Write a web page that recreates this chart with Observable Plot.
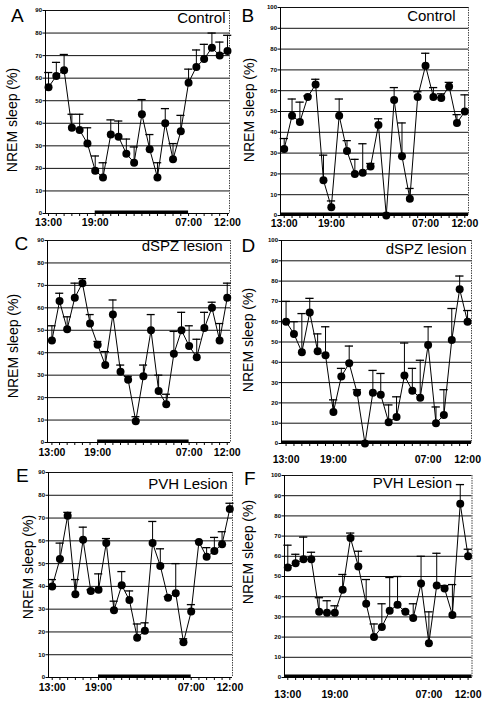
<!DOCTYPE html>
<html><head><meta charset="utf-8">
<script src="https://cdn.jsdelivr.net/npm/d3@7"></script>
<script src="https://cdn.jsdelivr.net/npm/@observablehq/plot@0.6"></script>
<style>
body{margin:0;background:#fff;}
#fig{position:relative;width:486px;height:703px;overflow:hidden;font-family:"Liberation Sans",Arial,Helvetica,sans-serif;color:#000;}
.panel{position:absolute;}
.letter{position:absolute;font-size:19px;line-height:1;}
.ylab{position:absolute;font-size:14px;white-space:nowrap;transform:translate(-50%,-50%) rotate(-90deg);}
</style></head><body><div id="fig"></div>
<script>
// ---- data ----
const hours = ["13:00","14:00","15:00","16:00","17:00","18:00","19:00","20:00","21:00","22:00","23:00","00:00",
               "01:00","02:00","03:00","04:00","05:00","06:00","07:00","08:00","09:00","10:00","11:00","12:00"];
const xTickLabels = ["13:00","19:00","07:00","12:00"];
const panelLetters = ["A","B","C","D","E","F"];
const panelTitles = ["Control","Control","dSPZ lesion","dSPZ lesion","PVH Lesion","PVH Lesion"];
const yMaxes = [90,100,90,100,90,100];
const yAxisLabel = "NREM sleep (%)";
// dark period: lights off 19:00-07:00 (A,C,E); constant darkness (B,D,F) = whole record
const darkPeriods = [["19:00","07:00"], "all", ["19:00","07:00"], "all", ["19:00","07:00"], "all"];

const meanA = [56,61,63.5,38,37,31,19,16,35,34,26.5,22.5,44,28.5,16,40,24,36.5,58,65,68.5,73.5,70,72];
const semA  = [6.5,6,7,6,7,7,6.5,6.5,6.5,7,6.5,7,6.5,6.5,6.5,6.5,7,7,6,7.5,6.5,6.5,6,7];
const meanB = [32,48,45,57,63,17,4,48,31,20,20.5,23.5,43.5,0,55.5,28.5,8,57,72,57,56.5,62,44.5,50];
const semB  = [5,8,9.5,0.5,2.5,12,3,8,5,7,14,1.5,3,0,6,16,5,2.5,6,4.5,2,2,4,8];
const meanC = [45.5,63,50.5,64.5,71,53,43.5,34.5,57,31.5,28,9.5,29.5,50,23,17,39.5,50,43,38,51,60,45.5,64.5];
const semC  = [6.5,3.5,5.5,6.5,2,4,1.5,6,6.5,3,1.5,2,5,7,7,4.5,10,8,9,8,7,2.5,7.5,6.5];
const meanD = [60,54,45,64.5,45.5,43.5,15.5,33,39.5,25,0,25,24,10.5,13,33.5,26,22.5,48.5,10,14,51,76,60];
const semD  = [10,6,19,7,8.5,14,6,4,8.5,1.5,0,11,10.5,8.5,10,16,11,18.5,9,8,12.5,15.5,6.5,5.5];
const meanE = [40,52,71,36.5,60.5,38,38.5,59,29.5,40.5,34,17.5,20.5,59,49,35,37,15.5,29,59.5,53,55.5,58.5,74];
const semE  = [3,7,1.5,6.5,5.5,0.5,7,2,4,6,4,6,3.5,9.5,7.5,0.5,13,1.5,3,0.5,4,6,5.5,2.5];
const meanF = [54.5,56.5,58.5,58.5,32.5,32,32,43.5,69,55,36.5,20,25,33,36,32.5,29.5,46.5,17,45.5,44,31,86,60];
const semF  = [11,4.5,11,3.5,7,6,3.5,7.5,2.5,7.5,12,6.5,11.5,16.5,14,0.5,7,13.5,15.5,16,1.5,15,9.5,3.5];

const means = [meanA, meanB, meanC, meanD, meanE, meanF];
const sems  = [semA, semB, semC, semD, semE, semF];

// ---- layout (page pixels) ----
const layout = [
  {L:45,  R:229, T:10,  B:213, xd:[-0.39,23.26], pad:5.2,  dx:-4,  dy:1.5,  ylab:[12,120],   letter:[11,6]},
  {L:280, R:468, T:7,   B:215, xd:[-0.47,23.47], pad:4.5,  dx:-13, dy:2.4,  ylab:[248.5,110], letter:[241.5,6]},
  {L:47,  R:230, T:240, B:442, xd:[-0.58,23.43], pad:6.5,  dx:-8,  dy:-0.6, ylab:[12.5,346], letter:[14.5,234]},
  {L:281, R:471, T:240, B:443, xd:[-0.58,23.5],  pad:12.5, dx:-5,  dy:2.4,  ylab:[248,340],  letter:[241.5,236]},
  {L:48,  R:232, T:472, B:677, xd:[-0.48,23.35], pad:6,    dx:-5,  dy:5.4,  ylab:[27.5,567], letter:[16,465.5]},
  {L:283.5,R:471,T:475, B:677, xd:[-0.42,23.5],  pad:13,   dx:-20, dy:1.4,  ylab:[248,552],  letter:[244,469]}
];

const fig = document.getElementById("fig");
const mL = 16, mR = 16, mT = 6, mB = 26;

for (let k = 0; k < 6; k++) {
  const lay = layout[k];
  const ymax = yMaxes[k];
  const rows = means[k].map((m, i) => ({i, hour: hours[i], m, s: sems[k][i]}));
  const withErr = rows.filter(d => d.s > 0);
  const grid = d3.range(10, ymax + 1, 10);
  const dp = darkPeriods[k];
  const dark = dp === "all"
    ? [{x1: lay.xd[0], x2: lay.xd[1]}]
    : [{x1: hours.indexOf(dp[0]), x2: hours.indexOf(dp[1])}];
  const W = lay.R - lay.L, H = lay.B - lay.T;

  const plot = Plot.plot({
    width: W + mL + mR,
    height: H + mT + mB,
    marginLeft: mL, marginRight: mR, marginTop: mT, marginBottom: mB,
    x: {domain: lay.xd, axis: null},
    y: {domain: [0, ymax], axis: null},
    style: {background: "transparent", overflow: "visible", maxWidth: "none",
            fontFamily: "'Liberation Sans', Arial, Helvetica, sans-serif", color: "black"},
    marks: [
      Plot.ruleY(grid, {stroke: "#111", strokeWidth: 1}),
      Plot.ruleX([lay.xd[1]], {stroke: "#333", strokeWidth: 0.9, strokeDasharray: "1.5,1"}),
      Plot.ruleX([lay.xd[0]], {stroke: "black", strokeWidth: 1}),
      Plot.ruleY([0], {stroke: "black", strokeWidth: 1}),
      Plot.axisY({ticks: [0, ...grid], tickSize: 2.5, tickPadding: 1, fontSize: 6, fontWeight: "bold", label: null}),
      Plot.axisX({ticks: d3.range(hours.length), tickSize: 3, tickFormat: () => "", label: null}),
      Plot.axisX({ticks: xTickLabels.map(h => hours.indexOf(h)), tickSize: 0, tickPadding: lay.pad,
                  tickFormat: i => hours[i], fontSize: 10.5, fontWeight: "bold", label: null}),
      Plot.ruleY(dark, {y: 0, x1: "x1", x2: "x2", stroke: "black", strokeWidth: 3.5, dy: -1.2}),
      Plot.ruleX(withErr, {x: "i", y1: "m", y2: d => d.m + d.s, stroke: "black", strokeWidth: 1}),
      Plot.ruleY(withErr, {y: d => d.m + d.s, x1: d => d.i - 0.5, x2: d => d.i + 0.55, stroke: "black", strokeWidth: 1.3}),
      Plot.line(rows, {x: "i", y: "m", stroke: "black", strokeWidth: 1}),
      Plot.dot(rows, {x: "i", y: "m", r: 4, fill: "black", stroke: "none"}),
      Plot.text([panelTitles[k]], {frameAnchor: "top-right", textAnchor: "end", lineAnchor: "top",
                                   dx: lay.dx, dy: lay.dy, fontSize: 15, fill: "black"})
    ]
  });
  const wrap = document.createElement("div");
  wrap.className = "panel";
  wrap.style.left = (lay.L - mL) + "px";
  wrap.style.top = (lay.T - mT) + "px";
  wrap.appendChild(plot);
  fig.appendChild(wrap);

  const lt = document.createElement("div");
  lt.className = "letter";
  lt.style.left = lay.letter[0] + "px";
  lt.style.top = lay.letter[1] + "px";
  lt.textContent = panelLetters[k];
  fig.appendChild(lt);

  const yl = document.createElement("div");
  yl.className = "ylab";
  yl.style.left = lay.ylab[0] + "px";
  yl.style.top = lay.ylab[1] + "px";
  yl.textContent = yAxisLabel;
  fig.appendChild(yl);
}
</script></body></html>
